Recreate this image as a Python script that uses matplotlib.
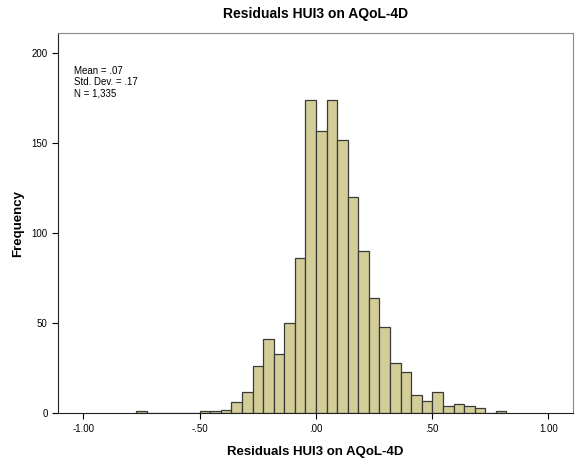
import matplotlib
matplotlib.use("Agg")
import matplotlib.pyplot as plt

# histogram of residuals (bins)
bin_start = -0.773
bin_width = 0.0455
counts = [1, 0, 0, 0, 0, 0,
          1, 1, 2, 6, 12, 26, 41, 33, 50, 86,
          174, 157, 174, 152, 120, 90, 64, 48, 28, 23,
          10, 7, 12, 4, 5, 4, 3, 0, 1]
lefts = [bin_start + i * bin_width for i in range(len(counts))]

xticks = [-1.0, -0.5, 0.0, 0.5, 1.0]
xticklabels = ['-1.00', '-.50', '.00', '.50', '1.00']
yticks = [0, 50, 100, 150, 200]
stats_text = 'Mean = .07\nStd. Dev. = .17\nN = 1,335'

plt.rcParams['font.family'] = ['Liberation Sans', 'DejaVu Sans']

fig = plt.figure(figsize=(5.83, 4.59), dpi=100)
ax = fig.add_axes([0.0995, 0.1, 0.8835, 0.828])

ax.bar(lefts, counts, width=bin_width, align='edge',
       color='#d3ce98', edgecolor='#3a3a3a', linewidth=0.9)

ax.set_xlim(-1.109, 1.106)
ax.set_ylim(0, 211.3)
ax.set_xticks(xticks)
ax.set_xticklabels(xticklabels)
ax.set_yticks(yticks)
ax.tick_params(labelsize=7, length=4, width=0.8, direction='out')

for side in ['top', 'right']:
    ax.spines[side].set_color('#8a8a8a')
for side in ['left', 'bottom']:
    ax.spines[side].set_color('#222222')

ax.set_title('Residuals HUI3 on AQoL-4D', fontsize=10, fontweight='bold', pad=10.5)
ax.set_xlabel('Residuals HUI3 on AQoL-4D', fontsize=9.5, fontweight='bold', labelpad=9)
ax.set_ylabel('Frequency', fontsize=9.5, fontweight='bold', labelpad=5)

ax.text(0.032, 0.912, stats_text, transform=ax.transAxes, fontsize=7,
        va='top', ha='left', linespacing=1.1)

fig.savefig('out.png', dpi=100)
